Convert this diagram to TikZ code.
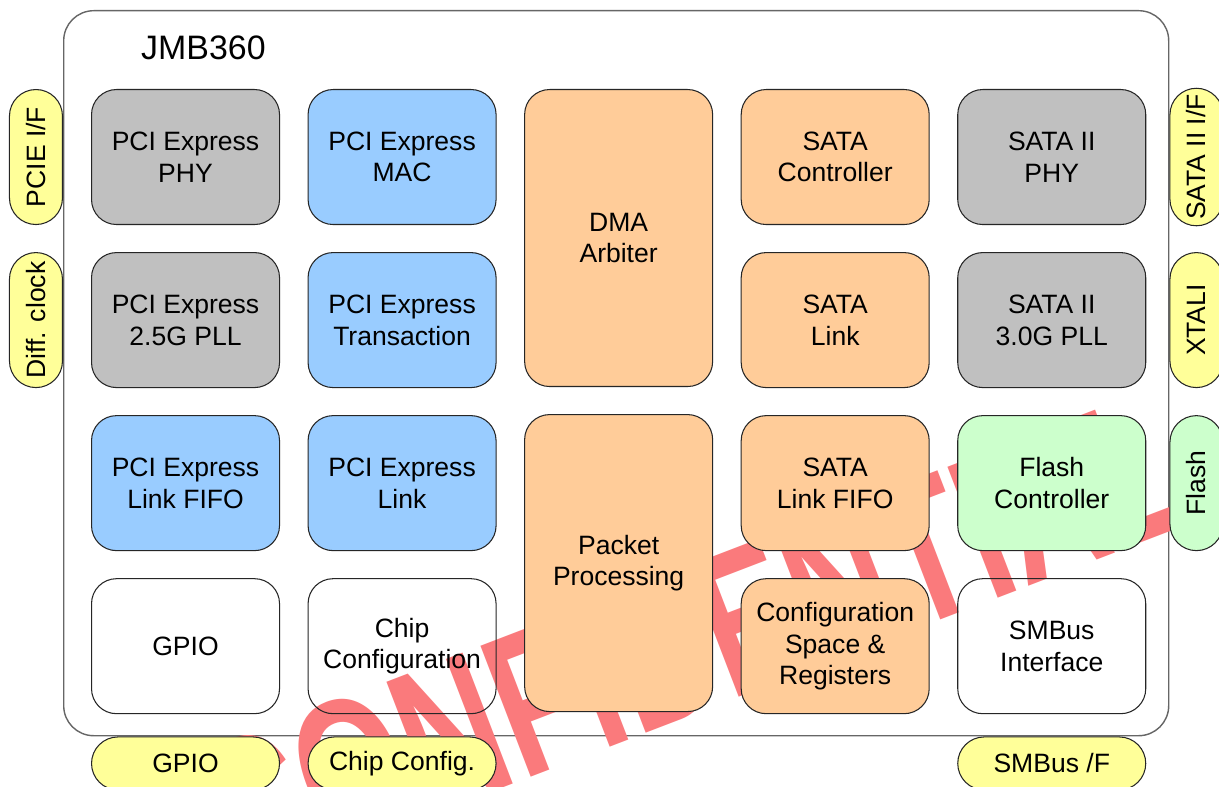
\documentclass[tikz,border=0pt]{standalone}
\usepackage{fontspec}
\setmainfont{Liberation Sans}
\usepackage{tikz}
\usetikzlibrary{positioning}
\definecolor{jmgray}{RGB}{192,192,192}
\definecolor{jmblue}{RGB}{153,204,255}
\definecolor{jmorange}{RGB}{255,204,153}
\definecolor{jmgreen}{RGB}{204,255,204}
\definecolor{jmyellow}{RGB}{255,255,153}
\definecolor{jmred}{RGB}{250,122,124}
\tikzstyle{block} = [rectangle, rounded corners=0.5cm, minimum width=3.76cm, minimum height=2.7cm, text centered, align=center, draw=black!85, line width=0.6pt, font=\fontsize{15.1}{18}\selectfont]
\tikzstyle{ifpill} = [rectangle, rounded corners=0.53cm, minimum width=2.7cm, minimum height=1.06cm, text centered, draw=black!85, line width=0.6pt, fill=jmyellow, font=\fontsize{15.1}{18}\selectfont]

\begin{document}
\begin{tikzpicture}[node distance=0.54cm and 0.55cm]
\useasboundingbox (0,0) rectangle (24.38,-15.74);
% Chip outline
\node[rectangle, rounded corners=0.6cm, draw=black!60, line width=0.8pt, fill=white, minimum width=22.1cm, minimum height=14.5cm, anchor=north west] (chip) at (1.26,-0.2) {};
\node[anchor=base west, font=\fontsize{19.3}{22}\selectfont] (title) at (2.7,-1.2) {JMB360};
% Watermark
\node[anchor=base east, rotate=21, xscale=0.68, inner sep=0pt, text=jmred, font=\bfseries\fontsize{116}{116}\selectfont] (stamp) at (23.96,-10.42) {CONFIDENTIAL};
% First row
\node[block, fill=jmgray, anchor=north west] (pciephy) at (1.82,-1.78) {PCI Express\\PHY};
\node[block, fill=jmblue, right=of pciephy] (pciemac) {PCI Express\\MAC};
\node[block, fill=jmorange, minimum height=5.94cm, right=of pciemac.north east, anchor=north west] (dma) {DMA\\Arbiter};
\node[block, fill=jmorange, right=of dma.north east, anchor=north west] (satactl) {SATA\\Controller};
\node[block, fill=jmgray, right=of satactl] (sataphy) {SATA II\\PHY};
% Second row
\node[block, fill=jmgray, below=of pciephy] (pciepll) {PCI Express\\2.5G PLL};
\node[block, fill=jmblue, below=of pciemac] (pcietrans) {PCI Express\\Transaction};
\node[block, fill=jmorange, below=of satactl] (satalink) {SATA\\Link};
\node[block, fill=jmgray, below=of sataphy] (satapll) {SATA II\\3.0G PLL};
% Third row
\node[block, fill=jmblue, below=of pciepll] (linkfifo) {PCI Express\\Link FIFO};
\node[block, fill=jmblue, below=of pcietrans] (pcielink) {PCI Express\\Link};
\node[block, fill=jmorange, minimum height=5.94cm, below=of dma] (packet) {Packet\\Processing};
\node[block, fill=jmorange, below=of satalink] (satafifo) {SATA\\Link FIFO};
\node[block, fill=jmgreen, below=of satapll] (flashctl) {Flash\\Controller};
% Fourth row
\node[block, below=of linkfifo] (gpio) {GPIO};
\node[block, below=of pcielink] (chipcfg) {Chip\\Configuration};
\node[block, fill=jmorange, below=of satafifo] (cfgspace) {Configuration\\Space \&\\Registers};
\node[block, below=of flashctl] (smbus) {SMBus\\Interface};
% Interfaces
\node[ifpill, rotate=90, anchor=south] (pcieif) at (chip.west |- pciephy) {PCIE I/F};
\node[ifpill, rotate=90, anchor=south] (diffclk) at (chip.west |- pciepll) {Diff. clock};
\node[ifpill, rotate=90, anchor=north] (sataif) at (chip.east |- sataphy) {SATA II I/F};
\node[ifpill, rotate=90, anchor=north] (xtali) at (chip.east |- satapll) {XTALI};
\node[ifpill, rotate=90, anchor=north, fill=jmgreen] (flashif) at (chip.east |- flashctl) {Flash};
\node[ifpill, minimum width=3.76cm, anchor=north] (gpioif) at (gpio |- chip.south) {GPIO};
\node[ifpill, minimum width=3.76cm, anchor=north] (cfgif) at (chipcfg |- chip.south) {Chip Config.};
\node[ifpill, minimum width=3.76cm, anchor=north] (smbusif) at (smbus |- chip.south) {SMBus /F};
\end{tikzpicture}
\end{document}
